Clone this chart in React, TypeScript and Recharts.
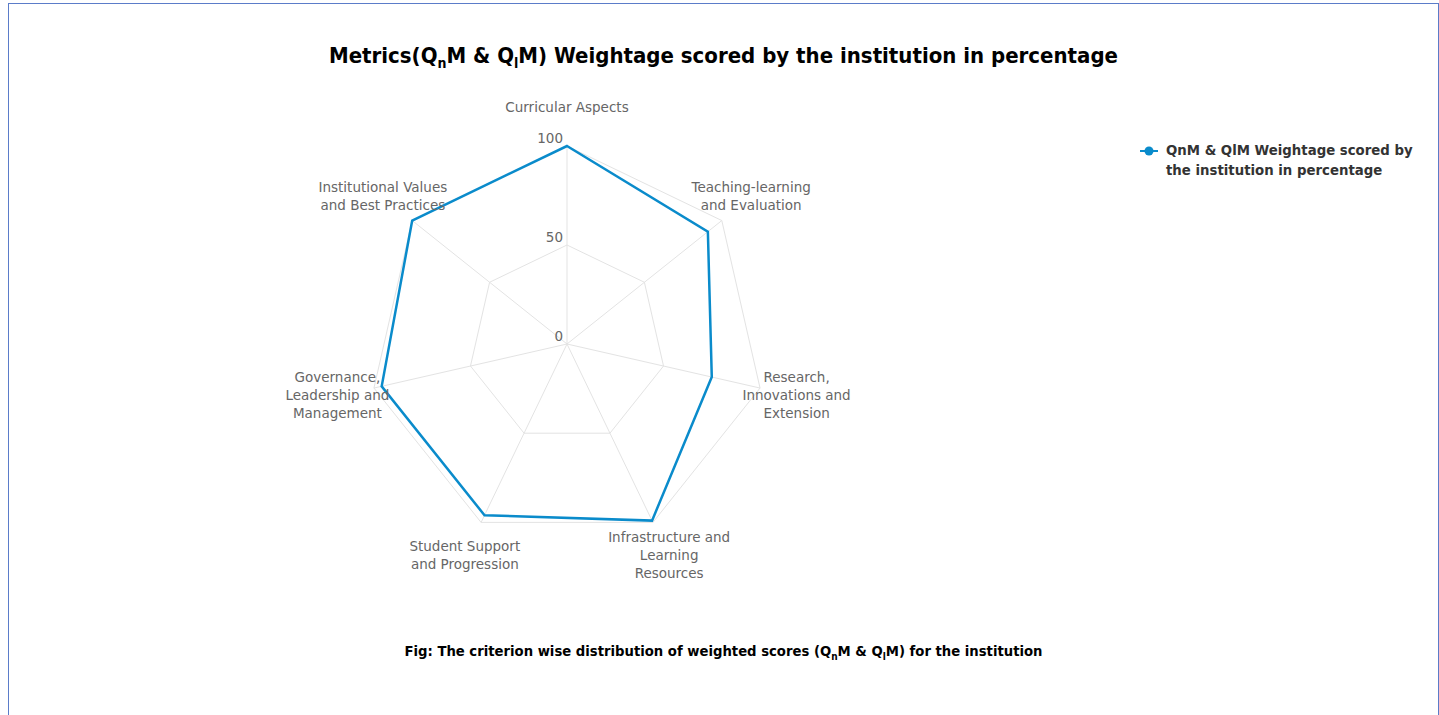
import React from "react";
import {
  Legend,
  PolarAngleAxis,
  PolarGrid,
  PolarRadiusAxis,
  Radar,
  RadarChart,
} from "recharts";

const categories = [
  "Curricular Aspects",
  "Teaching-learning\nand Evaluation",
  "Research,\nInnovations and\nExtension",
  "Infrastructure and\nLearning\nResources",
  "Student Support\nand Progression",
  "Governance,\nLeadership and\nManagement",
  "Institutional Values\nand Best Practices",
];
const scores = [100, 91, 75, 99, 96, 96, 100];
const radiusTicks = [0, 50, 100];
const seriesName = "QnM & QlM Weightage scored by the institution in percentage";

const data = categories.map((name, i) => ({ name, score: scores[i] }));

const BLUE = "#0a8bcb";
const LABEL_FONT = "'DejaVu Sans', Verdana, sans-serif";

function AngleTick(props: any) {
  const { x, y, cx, cy, radius, payload } = props;
  const dx = x - cx;
  const dy = y - cy;
  const len = Math.hypot(dx, dy) || 1;
  const r = (radius ?? len) + 37.5;
  const tx = cx + (dx / len) * r;
  const ty = cy + (dy / len) * r - 1.5;
  const lines = String(payload.value).split("\n");
  const first = ty - ((lines.length - 1) * 18) / 2;
  return (
    <text
      x={tx}
      y={first}
      textAnchor="middle"
      dominantBaseline="central"
      fill="#666666"
      fontSize={13.5}
      fontFamily={LABEL_FONT}
    >
      {lines.map((line, i) => (
        <tspan key={i} x={tx} y={first + i * 18}>
          {line}
        </tspan>
      ))}
    </text>
  );
}

function RadiusTick(props: any) {
  const { x, y, payload } = props;
  return (
    <text
      x={x - 4}
      y={y - 3}
      textAnchor="end"
      fill="#666666"
      fontSize={13.5}
      fontFamily={LABEL_FONT}
    >
      {payload.value}
    </text>
  );
}

function LegendContent() {
  return (
    <div style={{ display: "flex", alignItems: "flex-start" }}>
      <svg width={20} height={20} style={{ flex: "none" }}>
        <line x1={1} y1={10} x2={19} y2={10} stroke={BLUE} strokeWidth={2} />
        <circle cx={10} cy={10} r={4.5} fill={BLUE} />
      </svg>
      <div
        style={{
          marginLeft: 7,
          width: 262,
          fontFamily: LABEL_FONT,
          fontSize: 13.3,
          fontWeight: 700,
          lineHeight: "20px",
          color: "#333333",
        }}
      >
        {seriesName}
      </div>
    </div>
  );
}

export default function App() {
  return (
    <div
      style={{
        position: "absolute",
        left: 0,
        top: 0,
        width: 1439,
        height: 715,
        overflow: "hidden",
        background: "#ffffff",
      }}
    >
      <div
        style={{
          position: "absolute",
          left: 8,
          top: 3,
          width: 1429,
          height: 740,
          border: "1px solid #5b7cc9",
        }}
      />
      <div
        style={{
          position: "absolute",
          left: 8,
          top: 43,
          width: 1431,
          textAlign: "center",
          fontFamily: "'DejaVu Sans Condensed', 'DejaVu Sans', sans-serif",
          fontWeight: 700,
          fontSize: 22,
          color: "#000000",
        }}
      >
        Metrics(Q<sub style={{ fontSize: 14 }}>n</sub>M &amp; Q
        <sub style={{ fontSize: 14 }}>l</sub>M) Weightage scored by the institution in
        percentage
      </div>
      <div style={{ position: "absolute", left: 0, top: 0 }}>
        <RadarChart
          width={1439}
          height={715}
          data={data}
          cx={567}
          cy={344}
          outerRadius={198}
          margin={{ top: 0, right: 0, bottom: 0, left: 0 }}
        >
          <PolarGrid gridType="polygon" stroke="#e3e3e3" />
          <PolarAngleAxis
            dataKey="name"
            tick={<AngleTick />}
            tickLine={false}
            axisLine={false}
          />
          <PolarRadiusAxis
            angle={90}
            domain={[0, 100]}
            ticks={radiusTicks}
            tick={<RadiusTick />}
            axisLine={false}
            tickLine={false}
          />
          <Radar
            name={seriesName}
            dataKey="score"
            stroke={BLUE}
            strokeWidth={2.5}
            fill="none"
            fillOpacity={0}
            dot={{ r: 4.5, fill: BLUE, stroke: BLUE, strokeWidth: 0 }}
            isAnimationActive={false}
          />
          <Legend
            content={<LegendContent />}
            wrapperStyle={{ position: "absolute", left: 1139, top: 141, width: 300 }}
          />
        </RadarChart>
      </div>
      <div
        style={{
          position: "absolute",
          left: 8,
          top: 642,
          width: 1431,
          textAlign: "center",
          fontFamily: "'DejaVu Sans Condensed', 'DejaVu Sans', sans-serif",
          fontWeight: 600,
          fontSize: 14.7,
          color: "#000000",
        }}
      >
        Fig: The criterion wise distribution of weighted scores (Q
        <sub style={{ fontSize: 10 }}>n</sub>M &amp; Q<sub style={{ fontSize: 10 }}>l</sub>M)
        for the institution
      </div>
    </div>
  );
}
